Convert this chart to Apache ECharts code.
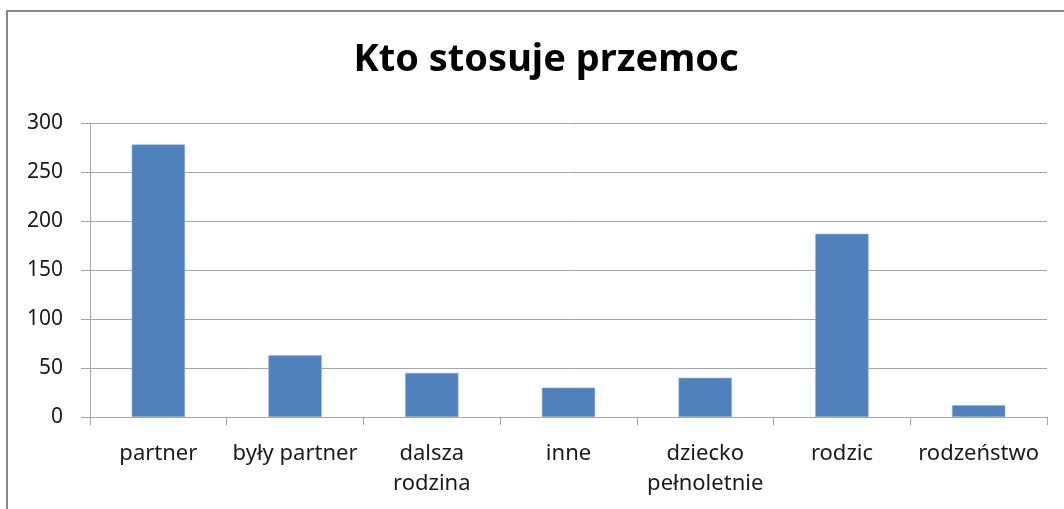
<!DOCTYPE html>
<html>
<head>
<meta charset="utf-8">
<script src="https://cdn.jsdelivr.net/npm/echarts@6/dist/echarts.min.js"></script>
<style>
html,body{margin:0;padding:0;background:#fff;}
#chart{width:1064px;height:509px;}
</style>
</head>
<body>
<div id="chart"></div>
<script>
var titleText = 'Kto stosuje przemoc';
var categories = ['partner', 'były partner', 'dalsza\nrodzina', 'inne', 'dziecko\npełnoletnie', 'rodzic', 'rodzeństwo'];
var values = [278, 63, 45, 30, 40, 187, 12];
var yTicks = [0, 50, 100, 150, 200, 250, 300];

var chart = echarts.init(document.getElementById('chart'));
chart.setOption({
  backgroundColor: '#fff',
  animation: false,
  title: {
    text: titleText,
    left: 541,
    top: 36,
    textAlign: 'center',
    textStyle: { fontFamily: 'Noto Sans', fontWeight: 'bold', fontSize: 38, color: '#000' }
  },
  graphic: [{
    type: 'rect',
    shape: { x: 7, y: 11, width: 1100, height: 600 },
    style: { fill: 'none', stroke: '#888', lineWidth: 2 },
    silent: true
  }],
  grid: { left: 90, right: 17, top: 123, bottom: 92, containLabel: false },
  xAxis: {
    type: 'category',
    data: categories,
    axisLine: { show: true, lineStyle: { color: '#a6a6a6', width: 1 } },
    axisTick: { show: true, length: 8, lineStyle: { color: '#a6a6a6' } },
    axisLabel: { interval: 0, margin: 22, fontFamily: 'Noto Sans', fontSize: 22, color: '#1a1a1a', lineHeight: 30 }
  },
  yAxis: {
    type: 'value',
    min: yTicks[0],
    max: yTicks[yTicks.length - 1],
    interval: 50,
    axisLine: { show: true, lineStyle: { color: '#a6a6a6', width: 1 } },
    axisTick: { show: true, length: 9, lineStyle: { color: '#a6a6a6' } },
    axisLabel: { margin: 27, fontFamily: 'Noto Sans', fontSize: 21, color: '#1a1a1a' },
    splitLine: { show: true, lineStyle: { color: '#a6a6a6', width: 1 } }
  },
  series: [{
    type: 'bar',
    data: values,
    barCategoryGap: '61%',
    itemStyle: { color: '#4F81BD', borderColor: '#8fb0d9', borderWidth: 0.6 }
  }]
});
</script>
</body>
</html>
